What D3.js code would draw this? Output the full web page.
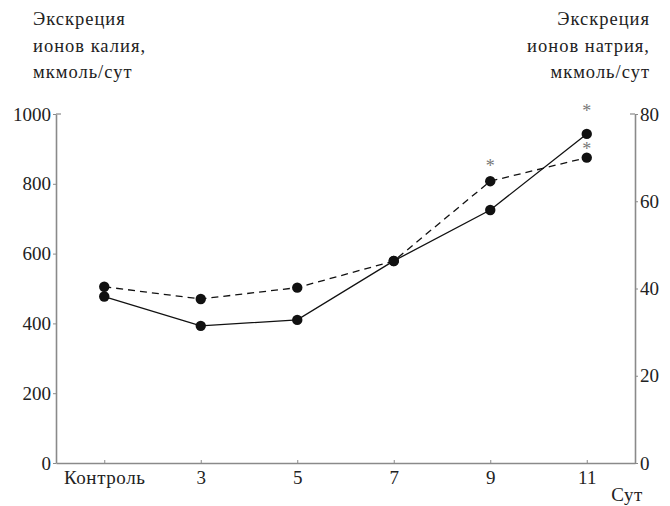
<!DOCTYPE html>
<html>
<head>
<meta charset="utf-8">
<script src="https://cdn.jsdelivr.net/npm/d3@7"></script>
<style>
  body { margin: 0; background: #fff; }
</style>
</head>
<body>
<div id="chart"></div>
<script>
// data
const categories = ['Контроль', '3', '5', '7', '9', '11'];
const potassium = [477, 393, 410, 579, 725, 943];      // solid line, left axis
const sodium = [40.4, 37.6, 40.2, 46.3, 64.6, 70.0];   // dashed line, right axis
const potassiumStars = [false, false, false, false, false, true];
const sodiumStars = [false, false, false, false, true, true];
const leftTicks = [0, 200, 400, 600, 800, 1000];
const rightTicks = [0, 20, 40, 60, 80];
const leftTitle = ['Экскреция', 'ионов калия,', 'мкмоль/сут'];
const rightTitle = ['Экскреция', 'ионов натрия,', 'мкмоль/сут'];
const xTitle = 'Сут';

const fontFamily = '"Liberation Serif", "Times New Roman", serif';

const dimensions = {
  width: 670,
  height: 506,
  margin: { top: 114, right: 35, bottom: 43, left: 56 },
};
dimensions.boundedWidth = dimensions.width - dimensions.margin.left - dimensions.margin.right;
dimensions.boundedHeight = dimensions.height - dimensions.margin.top - dimensions.margin.bottom;

const xScale = d3.scalePoint()
  .domain(categories)
  .range([0, dimensions.boundedWidth])
  .padding(0.5);

const yLeft = d3.scaleLinear().domain([0, 1000]).range([dimensions.boundedHeight, 0]);
const yRight = d3.scaleLinear().domain([0, 80]).range([dimensions.boundedHeight, 0]);

const wrapper = d3.select('#chart')
  .append('svg')
  .attr('width', dimensions.width)
  .attr('height', dimensions.height)
  .style('font-family', fontFamily);

const bounds = wrapper.append('g')
  .attr('transform', `translate(${dimensions.margin.left},${dimensions.margin.top})`);

const axisColor = '#8a8a8a';
const fontSize = 19;

// axes
function styleAxis(g) {
  g.attr('font-family', null).attr('font-size', null);
  g.select('.domain').attr('stroke', axisColor).attr('stroke-width', 1.6);
  g.selectAll('.tick line').attr('stroke', axisColor).attr('stroke-width', 1);
  g.selectAll('.tick text')
    .style('font-family', fontFamily)
    .style('font-size', fontSize + 'px')
    .attr('fill', '#222');
}

const leftAxis = bounds.append('g')
  .call(d3.axisLeft(yLeft).tickValues(leftTicks).tickFormat(d3.format('d'))
    .tickSizeInner(3).tickSizeOuter(0).tickPadding(2))
  .call(styleAxis);
leftAxis.append('line')
  .attr('x1', 0).attr('x2', 5).attr('y1', 0).attr('y2', 0)
  .attr('stroke', axisColor).attr('stroke-width', 1.2);

const rightAxis = bounds.append('g')
  .attr('transform', `translate(${dimensions.boundedWidth},0)`)
  .call(d3.axisRight(yRight).tickValues(rightTicks).tickFormat(d3.format('d'))
    .tickSizeInner(3).tickSizeOuter(0).tickPadding(2))
  .call(styleAxis);
rightAxis.append('line')
  .attr('x1', 0).attr('x2', -5).attr('y1', 0).attr('y2', 0)
  .attr('stroke', axisColor).attr('stroke-width', 1.2);

const xAxis = bounds.append('g')
  .attr('transform', `translate(0,${dimensions.boundedHeight})`)
  .call(d3.axisBottom(xScale).tickSizeInner(-3).tickSizeOuter(0).tickPadding(8))
  .call(styleAxis);
xAxis.selectAll('.tick text')
  .filter((d) => isNaN(+d))
  .style('letter-spacing', '0.6px');

bounds.append('text')
  .attr('x', dimensions.boundedWidth + 8)
  .attr('y', dimensions.boundedHeight + 38)
  .attr('text-anchor', 'end')
  .attr('fill', '#222')
  .style('font-size', fontSize + 'px')
  .style('letter-spacing', '0.6px')
  .text(xTitle);

// axis titles
wrapper.append('g').selectAll('text')
  .data(leftTitle)
  .join('text')
  .attr('x', 33)
  .attr('y', (d, i) => 25 + i * 26.5)
  .attr('fill', '#222')
  .style('font-size', '18.5px')
  .style('letter-spacing', '1px')
  .text((d) => d);

wrapper.append('g').selectAll('text')
  .data(rightTitle)
  .join('text')
  .attr('x', 650)
  .attr('y', (d, i) => 25 + i * 26.5)
  .attr('text-anchor', 'end')
  .attr('fill', '#222')
  .style('font-size', '18.5px')
  .style('letter-spacing', '1px')
  .text((d) => d);

// lines
const solidLine = d3.line()
  .x((d, i) => xScale(categories[i]))
  .y((d) => yLeft(d));
const dashedLine = d3.line()
  .x((d, i) => xScale(categories[i]))
  .y((d) => yRight(d));

bounds.append('path')
  .datum(sodium)
  .attr('d', dashedLine)
  .attr('fill', 'none')
  .attr('stroke', '#111')
  .attr('stroke-width', 1.3)
  .attr('stroke-dasharray', '7,5');

bounds.append('path')
  .datum(potassium)
  .attr('d', solidLine)
  .attr('fill', 'none')
  .attr('stroke', '#111')
  .attr('stroke-width', 1.3);

bounds.append('g').selectAll('circle')
  .data(sodium)
  .join('circle')
  .attr('cx', (d, i) => xScale(categories[i]))
  .attr('cy', (d) => yRight(d))
  .attr('r', 5.2)
  .attr('fill', '#111');

bounds.append('g').selectAll('circle')
  .data(potassium)
  .join('circle')
  .attr('cx', (d, i) => xScale(categories[i]))
  .attr('cy', (d) => yLeft(d))
  .attr('r', 5.2)
  .attr('fill', '#111');

// significance stars (star glyph centre sits ~9px above its baseline)
function starY(pointY, otherY) {
  // squeeze the star between the two points when the other one sits just above
  if (otherY < pointY && pointY - otherY < 40) return (pointY + otherY) / 2 + 9;
  return pointY - 18 + 9;
}

bounds.append('g').selectAll('text')
  .data(potassium.map((d, i) => ({ v: d, i })).filter((d) => potassiumStars[d.i]))
  .join('text')
  .attr('x', (d) => xScale(categories[d.i]))
  .attr('y', (d) => yLeft(d.v) - 26 + 9)
  .attr('text-anchor', 'middle')
  .style('font-size', '18px')
  .attr('fill', '#777')
  .text('*');

bounds.append('g').selectAll('text')
  .data(sodium.map((d, i) => ({ v: d, i })).filter((d) => sodiumStars[d.i]))
  .join('text')
  .attr('x', (d) => xScale(categories[d.i]))
  .attr('y', (d) => starY(yRight(d.v), yLeft(potassium[d.i])))
  .attr('text-anchor', 'middle')
  .style('font-size', '18px')
  .attr('fill', '#777')
  .text('*');
</script>
</body>
</html>
